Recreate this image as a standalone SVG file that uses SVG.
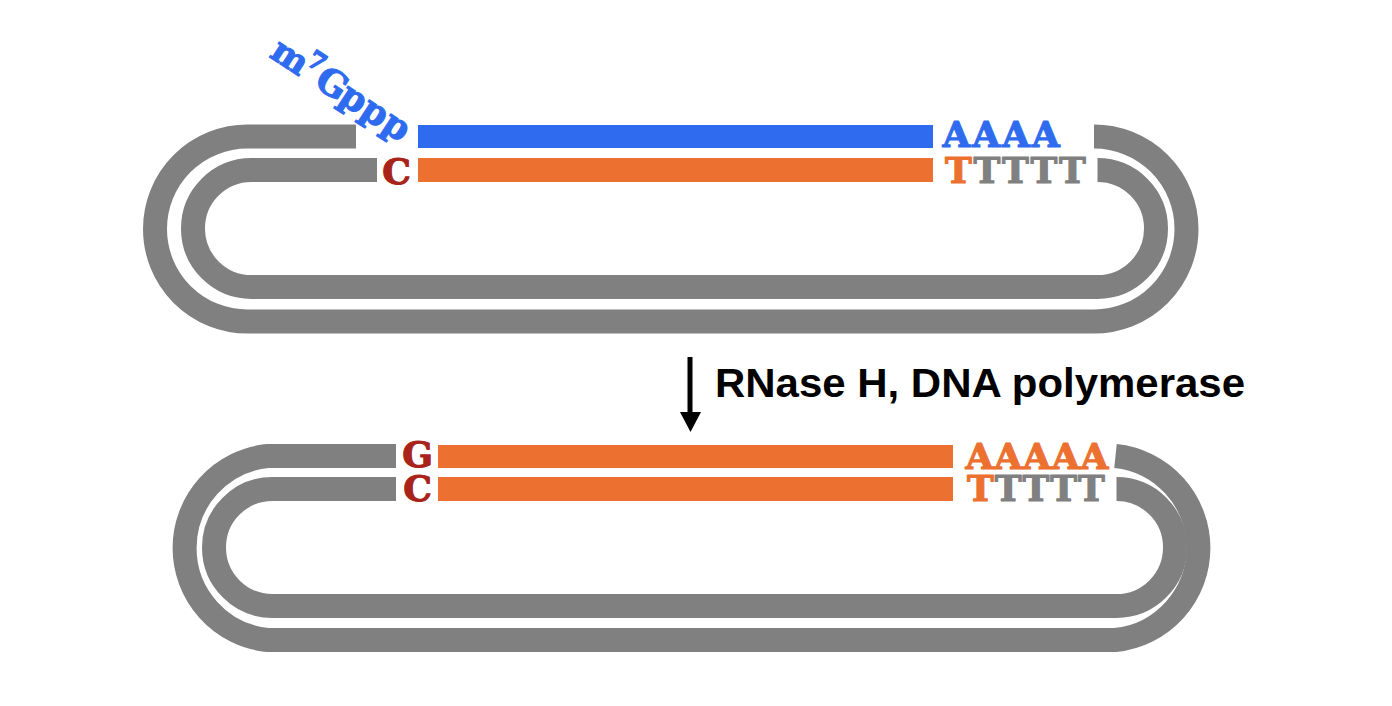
<svg xmlns="http://www.w3.org/2000/svg" width="1392" height="706" viewBox="0 0 1392 706">
<style>
.loop{fill:none;stroke:#808080;stroke-width:24;stroke-linecap:butt}
.base{font-family:"DejaVu Serif","Liberation Serif",serif;font-weight:bold;font-size:36px;text-anchor:middle;stroke-width:1.1;stroke-linejoin:round}
.blue{fill:#2f6bef;stroke:#2f6bef}
.orange{fill:#ec7030;stroke:#ec7030}
.gray{fill:#808080;stroke:#808080}
.red{fill:#a82319;stroke:#a82319}
.label{font-family:"Liberation Sans",Arial,sans-serif;font-weight:bold;font-size:41px;fill:#000}
</style>
<rect width="1392" height="706" fill="#fff"/>
<g id="connectors">
  <line x1="690" y1="357" x2="690" y2="414" stroke="#000" stroke-width="5"/>
  <polygon points="680,412 701,412 690.5,432" fill="#000"/>
</g>
<g id="top-plasmid">
  <path class="loop" d="M356,136.5 H247.5 A92.5,92.5 0 0 0 247.5,321.5 H1094 A92.5,92.5 0 0 0 1094,136.5"/>
  <path class="loop" d="M377,170 H251.5 A58.5,58.5 0 0 0 251.5,287 H1097.5 A58.5,58.5 0 0 0 1097.5,170"/>
  <rect x="418" y="125" width="515" height="23" fill="#2f6bef"/>
  <rect x="418" y="158" width="515" height="24" fill="#ec7030"/>
  <text class="base blue" transform="translate(272,59) rotate(33)"><tspan x="14" y="0" font-size="35">m</tspan><tspan x="39" y="-14" font-size="25">7</tspan><tspan x="64 90 115.5 141" y="0">Gppp</tspan></text>
  <text class="base red" x="396.5" y="184">C</text>
  <text class="base blue" x="956.5 986.2 1015.9 1045.6" y="147">AAAA</text>
  <text class="base" y="183"><tspan class="orange" x="958.5">T</tspan><tspan class="gray" x="987 1015.5 1044 1072.5">TTTT</tspan></text>
</g>
<g id="label">
  <text class="label" x="715" y="397" textLength="530" lengthAdjust="spacingAndGlyphs">RNase H, DNA polymerase</text>
</g>
<g id="bottom-plasmid">
  <path class="loop" d="M396,456 H267.5 A92.5,92.5 0 0 0 267.5,640 H1115.5 A92.5,92.5 0 0 0 1115.5,456"/>
  <path class="loop" d="M396,489 H272.5 A58.5,58.5 0 0 0 272.5,606 H1116.5 A58.5,58.5 0 0 0 1116.5,489"/>
  <rect x="438" y="445" width="515" height="23" fill="#ec7030"/>
  <rect x="438" y="477" width="515" height="24" fill="#ec7030"/>
  <text class="base red" x="417.5" y="467">G</text>
  <text class="base red" x="417.5" y="501">C</text>
  <text class="base orange" x="979.5 1008.25 1037 1065.75 1094.5" y="469">AAAAA</text>
  <text class="base" y="501"><tspan class="orange" x="980.5">T</tspan><tspan class="gray" x="1008.25 1036 1063.75 1091.5">TTTT</tspan></text>
</g>
</svg>
